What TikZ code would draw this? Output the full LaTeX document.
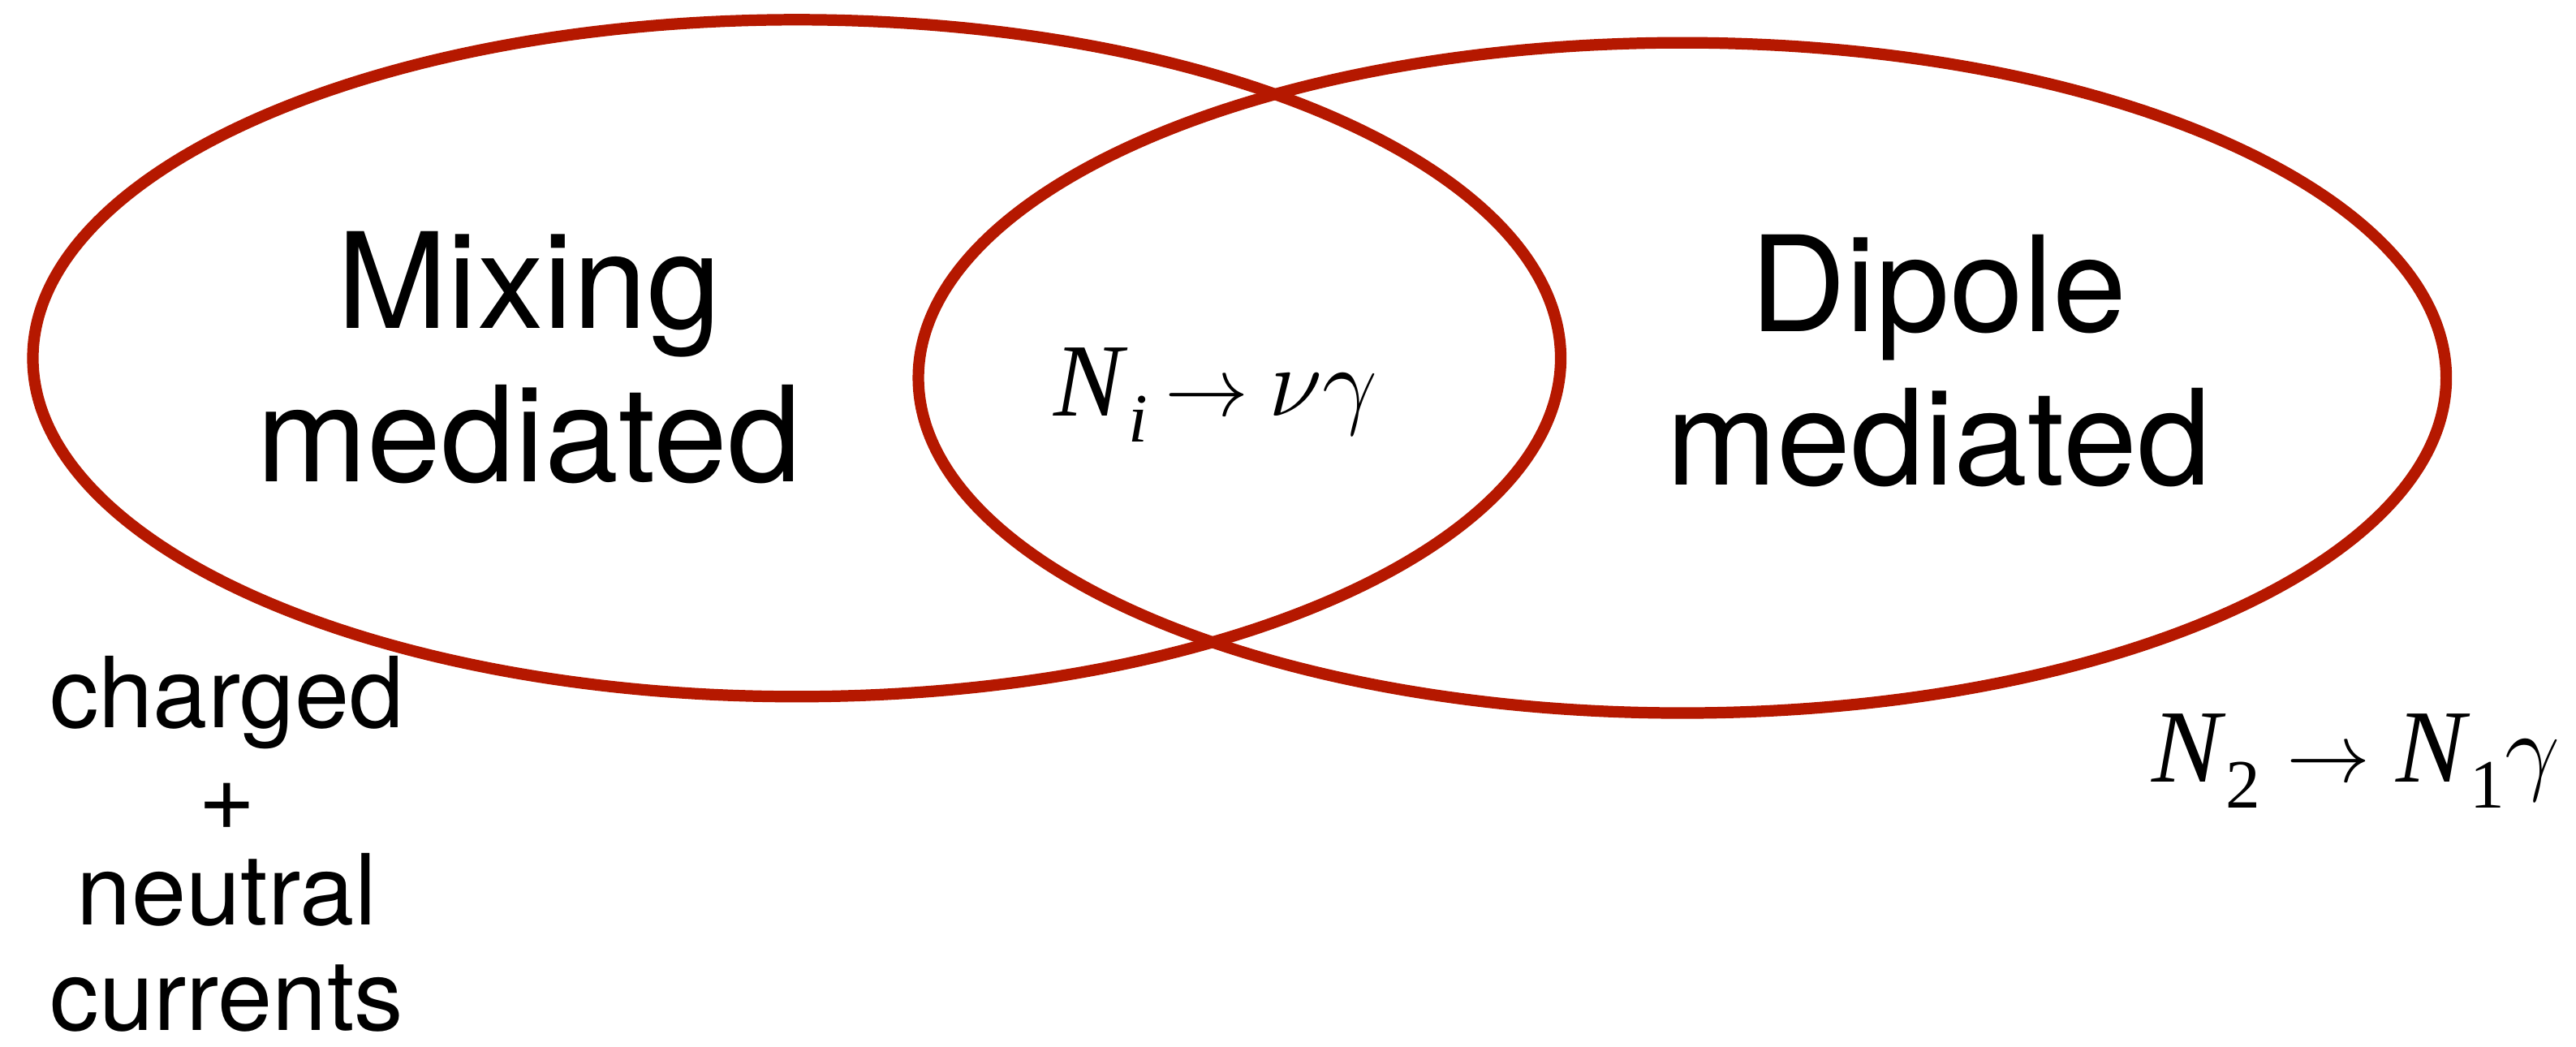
\RequirePackage{fix-cm}
\documentclass[tikz,border=0pt]{standalone}
\usepackage{fontspec}
\setmainfont{TeX Gyre Heros}
\newfontfamily\tms{Liberation Serif}
\definecolor{vennred}{RGB}{181,24,0}
\newcommand{\nsub}[1]{\raisebox{-0.25em}{\fontsize{24}{24}\selectfont #1}}
\newcommand{\arr}{{\fontsize{29}{29}\selectfont$\rightarrow$}}
\newcommand{\grk}[1]{{\fontsize{34}{34}\selectfont$#1$}}
\begin{document}
\begin{tikzpicture}[x=0.02cm,y=-0.02cm,
  venn/.style={draw=vennred,line width=4pt},
  bigtxt/.style={font=\fontsize{46}{53}\selectfont,inner sep=0pt,anchor=base},
  smalltxt/.style={font=\fontsize{34}{38}\selectfont,inner sep=0pt,anchor=base},
  mathtxt/.style={font=\tms\fontsize{36}{40}\selectfont,inner sep=0pt,anchor=base}]
\useasboundingbox (0,0) rectangle (1568,637);
\draw[venn] (485,218) ellipse [x radius=465, y radius=206];
\draw[venn] (1024,230) ellipse [x radius=465, y radius=204];
\node[bigtxt] (mix1) at (322,200) {Mixing};
\node[bigtxt] (mix2) at (322,293) {mediated};
\node[bigtxt] (dip1) at (1180,202) {Dipole};
\node[bigtxt] (dip2) at (1180,295) {mediated};
\node[mathtxt] (ni) at (740,253) {\textit{N}\nsub{\textit{i}}\hspace{6pt}\arr\hspace{7pt}\grk{\nu\gamma}};
\node[mathtxt] (n2) at (1434,476) {\textit{N}\nsub{2}\hspace{9pt}\arr\hspace{9pt}\textit{N}\nsub{1}\grk{\gamma}};
\node[smalltxt] (c1) at (138,443) {charged};
\node[smalltxt] (c2) at (138,505) {+};
\node[smalltxt] (c3) at (138,563) {neutral};
\node[smalltxt] (c4) at (138,627) {currents};
\end{tikzpicture}
\end{document}
